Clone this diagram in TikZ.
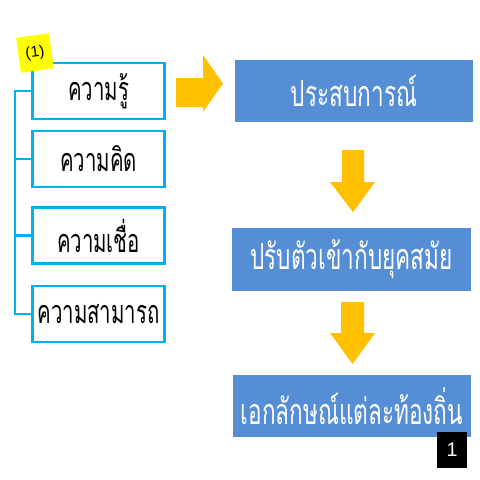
\documentclass[tikz,border=0pt]{standalone}
\usepackage{fontspec}
\setmainfont{Liberation Sans}
\newfontfamily\thaifont[Script=Thai, FakeStretch=0.63]{Loma}
\definecolor{linea}{RGB}{0,176,240}
\definecolor{blocco}{RGB}{85,142,213}
\definecolor{freccia}{RGB}{255,192,0}
\definecolor{postit}{RGB}{255,255,0}
\tikzset{
  voce/.style={draw=linea, line width=1.8pt, fill=white, minimum width=3.3cm, minimum height=1.4cm, inner sep=1pt, font=\thaifont\fontsize{23}{26}\selectfont},
  passo/.style={fill=blocco, text=white, minimum width=5.95cm, minimum height=1.55cm, inner sep=1pt, font=\thaifont\fontsize{25.5}{28}\selectfont},
}
\begin{document}
\begin{tikzpicture}[x=0.025cm, y=-0.025cm]
\useasboundingbox[fill=white] (0,0) rectangle (480,480);

%elenco a sinistra
\node[voce] (conoscenza) at (98.5,91) {ความรู้};
\node[voce] (pensiero) at (98.5,159) {ความคิด};
\node[voce] (credenza) at (98.5,235.5) {ความเชื่อ};
\node[voce] (capacita) at (98.5,314) {ความสามารถ};

%parentesi
\coordinate (dorso) at (15,0);
\begin{scope}[draw=linea, line width=1.8pt]
\draw (conoscenza.west) -- (conoscenza.west -| dorso) -- (capacita.west -| dorso) -- (capacita.west);
\draw (pensiero.west -| dorso) -- (pensiero.west);
\draw (credenza.west -| dorso) -- (credenza.west);
\end{scope}

%biglietto giallo
\node[fill=postit, rotate=8, minimum width=0.83cm, minimum height=0.88cm, inner sep=0pt, font=\fontsize{11}{13}\selectfont] (nota) at (35,53) {(1)};

%passi a destra
\node[passo] (esperienza) at (354,91) {ประสบการณ์};
\node[passo] (adattamento) at (351.5,259.5) {ปรับตัวเข้ากับยุคสมัย};
\node[passo] (identita) at (352,406) {เอกลักษณ์แต่ละท้องถิ่น};

%frecce
\fill[freccia] (176,78) -- (203,78) -- (203,55) -- (223,83.5) -- (203,112) -- (203,107) -- (176,107) -- cycle;
\fill[freccia] (342,150) -- (364,150) -- (364,182) -- (375,182) -- (353,212) -- (330,182) -- (342,182) -- cycle;
\fill[freccia] (341,302) -- (364,302) -- (364,333) -- (375,333) -- (352.5,364) -- (330,333) -- (341,333) -- cycle;

%numero di pagina
\node[fill=black, text=white, minimum width=0.75cm, minimum height=0.9cm, inner sep=0pt, font=\fontsize{14}{16}\selectfont] (pagina) at (452,450) {1};

\end{tikzpicture}
\end{document}
